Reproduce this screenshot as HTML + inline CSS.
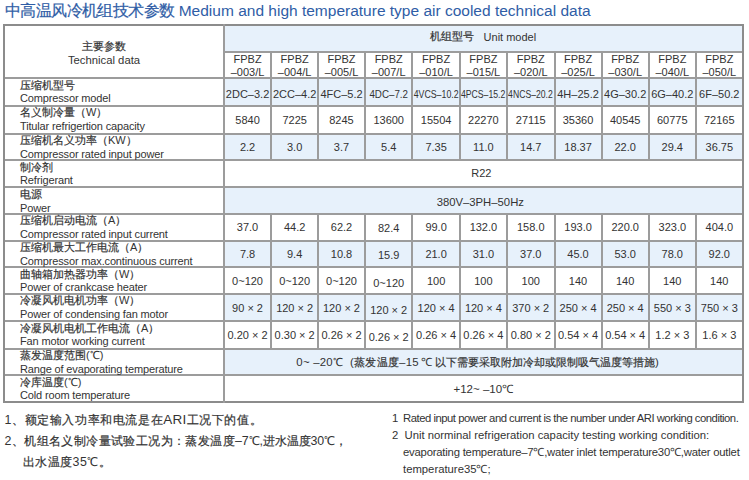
<!DOCTYPE html>
<html><head><meta charset="utf-8"><style>
html,body{margin:0;padding:0;background:#fff;}
body{width:749px;height:480px;position:relative;overflow:hidden;font-family:"Liberation Sans",sans-serif;font-size:11px;color:#333;}
body>div{position:absolute;box-sizing:border-box;}
.c{-webkit-text-stroke:0.2px currentColor;}
.e{letter-spacing:-0.15px;}
</style></head><body>
<div style="left:5px;top:1px;font-size:15.5px;line-height:20px;color:#2f5da6;white-space:nowrap"><span style="letter-spacing:-0.6px"><span class="c">中高温风冷机组技术参数</span></span> Medium and high temperature type air cooled technical data</div>
<div style="left:223.8px;top:25px;width:519.0px;height:26.700000000000003px;background:#e7f1fb"></div>
<div style="left:223.8px;top:78.3px;width:519.0px;height:27.60000000000001px;background:#e7f1fb"></div>
<div style="left:223.8px;top:133.7px;width:519.0px;height:26.600000000000023px;background:#e7f1fb"></div>
<div style="left:223.8px;top:187.5px;width:519.0px;height:26.19999999999999px;background:#e7f1fb"></div>
<div style="left:223.8px;top:240.5px;width:519.0px;height:26.5px;background:#e7f1fb"></div>
<div style="left:223.8px;top:293.6px;width:519.0px;height:27.599999999999966px;background:#e7f1fb"></div>
<div style="left:223.8px;top:348.7px;width:519.0px;height:26.600000000000023px;background:#e7f1fb"></div>
<div style="left:3px;top:24px;width:740.8px;height:2px;background:#8c8c8c"></div>
<div style="left:222.8px;top:51px;width:521.0px;height:2px;background:#9c9c9c"></div>
<div style="left:3px;top:77px;width:740.8px;height:2px;background:#9c9c9c"></div>
<div style="left:3px;top:105px;width:740.8px;height:2px;background:#9c9c9c"></div>
<div style="left:3px;top:133px;width:740.8px;height:2px;background:#9c9c9c"></div>
<div style="left:3px;top:159px;width:740.8px;height:2px;background:#9c9c9c"></div>
<div style="left:3px;top:186px;width:740.8px;height:2px;background:#9c9c9c"></div>
<div style="left:3px;top:213px;width:740.8px;height:2px;background:#9c9c9c"></div>
<div style="left:3px;top:240px;width:740.8px;height:2px;background:#9c9c9c"></div>
<div style="left:3px;top:266px;width:740.8px;height:2px;background:#9c9c9c"></div>
<div style="left:3px;top:293px;width:740.8px;height:2px;background:#9c9c9c"></div>
<div style="left:3px;top:320px;width:740.8px;height:2px;background:#9c9c9c"></div>
<div style="left:3px;top:348px;width:740.8px;height:2px;background:#9c9c9c"></div>
<div style="left:3px;top:374px;width:740.8px;height:2px;background:#9c9c9c"></div>
<div style="left:3px;top:401px;width:740.8px;height:2px;background:#8c8c8c"></div>
<div style="left:3px;top:24px;width:2px;height:379.2px;background:#8c8c8c"></div>
<div style="left:742px;top:24px;width:2px;height:379.2px;background:#8c8c8c"></div>
<div style="left:223px;top:24px;width:2px;height:379.2px;background:#9c9c9c"></div>
<div style="left:270px;top:52px;width:2px;height:109px;background:#9c9c9c"></div>
<div style="left:317px;top:52px;width:2px;height:109px;background:#9c9c9c"></div>
<div style="left:364px;top:52px;width:2px;height:109px;background:#9c9c9c"></div>
<div style="left:411px;top:52px;width:2px;height:109px;background:#9c9c9c"></div>
<div style="left:459px;top:52px;width:2px;height:109px;background:#9c9c9c"></div>
<div style="left:506px;top:52px;width:2px;height:109px;background:#9c9c9c"></div>
<div style="left:554px;top:52px;width:2px;height:109px;background:#9c9c9c"></div>
<div style="left:601px;top:52px;width:2px;height:109px;background:#9c9c9c"></div>
<div style="left:648px;top:52px;width:2px;height:109px;background:#9c9c9c"></div>
<div style="left:695px;top:52px;width:2px;height:109px;background:#9c9c9c"></div>
<div style="left:270px;top:214px;width:2px;height:135px;background:#9c9c9c"></div>
<div style="left:317px;top:214px;width:2px;height:135px;background:#9c9c9c"></div>
<div style="left:364px;top:214px;width:2px;height:135px;background:#9c9c9c"></div>
<div style="left:411px;top:214px;width:2px;height:135px;background:#9c9c9c"></div>
<div style="left:459px;top:214px;width:2px;height:135px;background:#9c9c9c"></div>
<div style="left:506px;top:214px;width:2px;height:135px;background:#9c9c9c"></div>
<div style="left:554px;top:214px;width:2px;height:135px;background:#9c9c9c"></div>
<div style="left:601px;top:214px;width:2px;height:135px;background:#9c9c9c"></div>
<div style="left:648px;top:214px;width:2px;height:135px;background:#9c9c9c"></div>
<div style="left:695px;top:214px;width:2px;height:135px;background:#9c9c9c"></div>
<div style="left:223.8px;top:23.5px;width:519.0px;height:26.700000000000003px;display:flex;align-items:center;justify-content:center;white-space:nowrap;"><span class="c">机组型号</span>&nbsp;&nbsp; Unit model</div>
<div style="left:223.8px;top:52.300000000000004px;width:47.5px;height:26.599999999999987px;display:flex;align-items:center;justify-content:center;white-space:nowrap;"><span style="line-height:12.7px;text-align:center">FPBZ<br>–003/L</span></div>
<div style="left:271.3px;top:52.300000000000004px;width:46.69999999999999px;height:26.599999999999987px;display:flex;align-items:center;justify-content:center;white-space:nowrap;"><span style="line-height:12.7px;text-align:center">FPBZ<br>–004/L</span></div>
<div style="left:318.0px;top:52.300000000000004px;width:47.0px;height:26.599999999999987px;display:flex;align-items:center;justify-content:center;white-space:nowrap;"><span style="line-height:12.7px;text-align:center">FPBZ<br>–005/L</span></div>
<div style="left:365.0px;top:52.300000000000004px;width:47.39999999999998px;height:26.599999999999987px;display:flex;align-items:center;justify-content:center;white-space:nowrap;"><span style="line-height:12.7px;text-align:center">FPBZ<br>–007/L</span></div>
<div style="left:412.4px;top:52.300000000000004px;width:47.400000000000034px;height:26.599999999999987px;display:flex;align-items:center;justify-content:center;white-space:nowrap;"><span style="line-height:12.7px;text-align:center">FPBZ<br>–010/L</span></div>
<div style="left:459.8px;top:52.300000000000004px;width:47.19999999999999px;height:26.599999999999987px;display:flex;align-items:center;justify-content:center;white-space:nowrap;"><span style="line-height:12.7px;text-align:center">FPBZ<br>–015/L</span></div>
<div style="left:507.0px;top:52.300000000000004px;width:47.5px;height:26.599999999999987px;display:flex;align-items:center;justify-content:center;white-space:nowrap;"><span style="line-height:12.7px;text-align:center">FPBZ<br>–020/L</span></div>
<div style="left:554.5px;top:52.300000000000004px;width:47.10000000000002px;height:26.599999999999987px;display:flex;align-items:center;justify-content:center;white-space:nowrap;"><span style="line-height:12.7px;text-align:center">FPBZ<br>–025/L</span></div>
<div style="left:601.6px;top:52.300000000000004px;width:47.19999999999993px;height:26.599999999999987px;display:flex;align-items:center;justify-content:center;white-space:nowrap;"><span style="line-height:12.7px;text-align:center">FPBZ<br>–030/L</span></div>
<div style="left:648.8px;top:52.300000000000004px;width:47.0px;height:26.599999999999987px;display:flex;align-items:center;justify-content:center;white-space:nowrap;"><span style="line-height:12.7px;text-align:center">FPBZ<br>–040/L</span></div>
<div style="left:695.8px;top:52.300000000000004px;width:47.0px;height:26.599999999999987px;display:flex;align-items:center;justify-content:center;white-space:nowrap;"><span style="line-height:12.7px;text-align:center">FPBZ<br>–050/L</span></div>
<div style="left:223.8px;top:79.8px;width:47.5px;height:27.60000000000001px;display:flex;align-items:center;justify-content:center;white-space:nowrap;">2DC–3.2</div>
<div style="left:271.3px;top:79.8px;width:46.69999999999999px;height:27.60000000000001px;display:flex;align-items:center;justify-content:center;white-space:nowrap;">2CC–4.2</div>
<div style="left:318.0px;top:79.8px;width:47.0px;height:27.60000000000001px;display:flex;align-items:center;justify-content:center;white-space:nowrap;">4FC–5.2</div>
<div style="left:365.0px;top:79.8px;width:47.39999999999998px;height:27.60000000000001px;display:flex;align-items:center;justify-content:center;white-space:nowrap;"><span style="display:inline-block;transform:scaleX(0.89)">4DC–7.2</span></div>
<div style="left:412.4px;top:79.8px;width:47.400000000000034px;height:27.60000000000001px;display:flex;align-items:center;justify-content:center;white-space:nowrap;"><span style="display:inline-block;transform:scaleX(0.8)">4VCS–10.2</span></div>
<div style="left:459.8px;top:79.8px;width:47.19999999999999px;height:27.60000000000001px;display:flex;align-items:center;justify-content:center;white-space:nowrap;"><span style="display:inline-block;transform:scaleX(0.79)">4PCS–15.2</span></div>
<div style="left:507.0px;top:79.8px;width:47.5px;height:27.60000000000001px;display:flex;align-items:center;justify-content:center;white-space:nowrap;"><span style="display:inline-block;transform:scaleX(0.785)">4NCS–20.2</span></div>
<div style="left:554.5px;top:79.8px;width:47.10000000000002px;height:27.60000000000001px;display:flex;align-items:center;justify-content:center;white-space:nowrap;">4H–25.2</div>
<div style="left:601.6px;top:79.8px;width:47.19999999999993px;height:27.60000000000001px;display:flex;align-items:center;justify-content:center;white-space:nowrap;">4G–30.2</div>
<div style="left:648.8px;top:79.8px;width:47.0px;height:27.60000000000001px;display:flex;align-items:center;justify-content:center;white-space:nowrap;">6G–40.2</div>
<div style="left:695.8px;top:79.8px;width:47.0px;height:27.60000000000001px;display:flex;align-items:center;justify-content:center;white-space:nowrap;">6F–50.2</div>
<div style="left:223.8px;top:105.9px;width:47.5px;height:27.799999999999983px;display:flex;align-items:center;justify-content:center;white-space:nowrap;">5840</div>
<div style="left:271.3px;top:105.9px;width:46.69999999999999px;height:27.799999999999983px;display:flex;align-items:center;justify-content:center;white-space:nowrap;">7225</div>
<div style="left:318.0px;top:105.9px;width:47.0px;height:27.799999999999983px;display:flex;align-items:center;justify-content:center;white-space:nowrap;">8245</div>
<div style="left:365.0px;top:105.9px;width:47.39999999999998px;height:27.799999999999983px;display:flex;align-items:center;justify-content:center;white-space:nowrap;">13600</div>
<div style="left:412.4px;top:105.9px;width:47.400000000000034px;height:27.799999999999983px;display:flex;align-items:center;justify-content:center;white-space:nowrap;">15504</div>
<div style="left:459.8px;top:105.9px;width:47.19999999999999px;height:27.799999999999983px;display:flex;align-items:center;justify-content:center;white-space:nowrap;">22270</div>
<div style="left:507.0px;top:105.9px;width:47.5px;height:27.799999999999983px;display:flex;align-items:center;justify-content:center;white-space:nowrap;">27115</div>
<div style="left:554.5px;top:105.9px;width:47.10000000000002px;height:27.799999999999983px;display:flex;align-items:center;justify-content:center;white-space:nowrap;">35360</div>
<div style="left:601.6px;top:105.9px;width:47.19999999999993px;height:27.799999999999983px;display:flex;align-items:center;justify-content:center;white-space:nowrap;">40545</div>
<div style="left:648.8px;top:105.9px;width:47.0px;height:27.799999999999983px;display:flex;align-items:center;justify-content:center;white-space:nowrap;">60775</div>
<div style="left:695.8px;top:105.9px;width:47.0px;height:27.799999999999983px;display:flex;align-items:center;justify-content:center;white-space:nowrap;">72165</div>
<div style="left:223.8px;top:133.7px;width:47.5px;height:26.600000000000023px;display:flex;align-items:center;justify-content:center;white-space:nowrap;">2.2</div>
<div style="left:271.3px;top:133.7px;width:46.69999999999999px;height:26.600000000000023px;display:flex;align-items:center;justify-content:center;white-space:nowrap;">3.0</div>
<div style="left:318.0px;top:133.7px;width:47.0px;height:26.600000000000023px;display:flex;align-items:center;justify-content:center;white-space:nowrap;">3.7</div>
<div style="left:365.0px;top:133.7px;width:47.39999999999998px;height:26.600000000000023px;display:flex;align-items:center;justify-content:center;white-space:nowrap;">5.4</div>
<div style="left:412.4px;top:133.7px;width:47.400000000000034px;height:26.600000000000023px;display:flex;align-items:center;justify-content:center;white-space:nowrap;">7.35</div>
<div style="left:459.8px;top:133.7px;width:47.19999999999999px;height:26.600000000000023px;display:flex;align-items:center;justify-content:center;white-space:nowrap;">11.0</div>
<div style="left:507.0px;top:133.7px;width:47.5px;height:26.600000000000023px;display:flex;align-items:center;justify-content:center;white-space:nowrap;">14.7</div>
<div style="left:554.5px;top:133.7px;width:47.10000000000002px;height:26.600000000000023px;display:flex;align-items:center;justify-content:center;white-space:nowrap;">18.37</div>
<div style="left:601.6px;top:133.7px;width:47.19999999999993px;height:26.600000000000023px;display:flex;align-items:center;justify-content:center;white-space:nowrap;">22.0</div>
<div style="left:648.8px;top:133.7px;width:47.0px;height:26.600000000000023px;display:flex;align-items:center;justify-content:center;white-space:nowrap;">29.4</div>
<div style="left:695.8px;top:133.7px;width:47.0px;height:26.600000000000023px;display:flex;align-items:center;justify-content:center;white-space:nowrap;">36.75</div>
<div style="left:223.8px;top:213.7px;width:47.5px;height:26.80000000000001px;display:flex;align-items:center;justify-content:center;white-space:nowrap;">37.0</div>
<div style="left:271.3px;top:213.7px;width:46.69999999999999px;height:26.80000000000001px;display:flex;align-items:center;justify-content:center;white-space:nowrap;">44.2</div>
<div style="left:318.0px;top:213.7px;width:47.0px;height:26.80000000000001px;display:flex;align-items:center;justify-content:center;white-space:nowrap;">62.2</div>
<div style="left:365.0px;top:215.1px;width:47.39999999999998px;height:26.80000000000001px;display:flex;align-items:center;justify-content:center;white-space:nowrap;">82.4</div>
<div style="left:412.4px;top:213.7px;width:47.400000000000034px;height:26.80000000000001px;display:flex;align-items:center;justify-content:center;white-space:nowrap;">99.0</div>
<div style="left:459.8px;top:213.7px;width:47.19999999999999px;height:26.80000000000001px;display:flex;align-items:center;justify-content:center;white-space:nowrap;">132.0</div>
<div style="left:507.0px;top:213.7px;width:47.5px;height:26.80000000000001px;display:flex;align-items:center;justify-content:center;white-space:nowrap;">158.0</div>
<div style="left:554.5px;top:213.7px;width:47.10000000000002px;height:26.80000000000001px;display:flex;align-items:center;justify-content:center;white-space:nowrap;">193.0</div>
<div style="left:601.6px;top:213.7px;width:47.19999999999993px;height:26.80000000000001px;display:flex;align-items:center;justify-content:center;white-space:nowrap;">220.0</div>
<div style="left:648.8px;top:213.7px;width:47.0px;height:26.80000000000001px;display:flex;align-items:center;justify-content:center;white-space:nowrap;">323.0</div>
<div style="left:695.8px;top:213.7px;width:47.0px;height:26.80000000000001px;display:flex;align-items:center;justify-content:center;white-space:nowrap;">404.0</div>
<div style="left:223.8px;top:240.5px;width:47.5px;height:26.5px;display:flex;align-items:center;justify-content:center;white-space:nowrap;">7.8</div>
<div style="left:271.3px;top:240.5px;width:46.69999999999999px;height:26.5px;display:flex;align-items:center;justify-content:center;white-space:nowrap;">9.4</div>
<div style="left:318.0px;top:240.5px;width:47.0px;height:26.5px;display:flex;align-items:center;justify-content:center;white-space:nowrap;">10.8</div>
<div style="left:365.0px;top:241.9px;width:47.39999999999998px;height:26.49999999999997px;display:flex;align-items:center;justify-content:center;white-space:nowrap;">15.9</div>
<div style="left:412.4px;top:240.5px;width:47.400000000000034px;height:26.5px;display:flex;align-items:center;justify-content:center;white-space:nowrap;">21.0</div>
<div style="left:459.8px;top:240.5px;width:47.19999999999999px;height:26.5px;display:flex;align-items:center;justify-content:center;white-space:nowrap;">31.0</div>
<div style="left:507.0px;top:240.5px;width:47.5px;height:26.5px;display:flex;align-items:center;justify-content:center;white-space:nowrap;">37.0</div>
<div style="left:554.5px;top:240.5px;width:47.10000000000002px;height:26.5px;display:flex;align-items:center;justify-content:center;white-space:nowrap;">45.0</div>
<div style="left:601.6px;top:240.5px;width:47.19999999999993px;height:26.5px;display:flex;align-items:center;justify-content:center;white-space:nowrap;">53.0</div>
<div style="left:648.8px;top:240.5px;width:47.0px;height:26.5px;display:flex;align-items:center;justify-content:center;white-space:nowrap;">78.0</div>
<div style="left:695.8px;top:240.5px;width:47.0px;height:26.5px;display:flex;align-items:center;justify-content:center;white-space:nowrap;">92.0</div>
<div style="left:223.8px;top:268.2px;width:47.5px;height:26.600000000000023px;display:flex;align-items:center;justify-content:center;white-space:nowrap;">0~120</div>
<div style="left:271.3px;top:268.2px;width:46.69999999999999px;height:26.600000000000023px;display:flex;align-items:center;justify-content:center;white-space:nowrap;">0~120</div>
<div style="left:318.0px;top:268.2px;width:47.0px;height:26.600000000000023px;display:flex;align-items:center;justify-content:center;white-space:nowrap;">0~120</div>
<div style="left:365.0px;top:269.6px;width:47.39999999999998px;height:26.600000000000023px;display:flex;align-items:center;justify-content:center;white-space:nowrap;">0~120</div>
<div style="left:412.4px;top:268.2px;width:47.400000000000034px;height:26.600000000000023px;display:flex;align-items:center;justify-content:center;white-space:nowrap;">100</div>
<div style="left:459.8px;top:268.2px;width:47.19999999999999px;height:26.600000000000023px;display:flex;align-items:center;justify-content:center;white-space:nowrap;">100</div>
<div style="left:507.0px;top:268.2px;width:47.5px;height:26.600000000000023px;display:flex;align-items:center;justify-content:center;white-space:nowrap;">100</div>
<div style="left:554.5px;top:268.2px;width:47.10000000000002px;height:26.600000000000023px;display:flex;align-items:center;justify-content:center;white-space:nowrap;">140</div>
<div style="left:601.6px;top:268.2px;width:47.19999999999993px;height:26.600000000000023px;display:flex;align-items:center;justify-content:center;white-space:nowrap;">140</div>
<div style="left:648.8px;top:268.2px;width:47.0px;height:26.600000000000023px;display:flex;align-items:center;justify-content:center;white-space:nowrap;">140</div>
<div style="left:695.8px;top:268.2px;width:47.0px;height:26.600000000000023px;display:flex;align-items:center;justify-content:center;white-space:nowrap;">140</div>
<div style="left:223.8px;top:294.40000000000003px;width:47.5px;height:27.599999999999966px;display:flex;align-items:center;justify-content:center;white-space:nowrap;">90 × 2</div>
<div style="left:271.3px;top:294.40000000000003px;width:46.69999999999999px;height:27.599999999999966px;display:flex;align-items:center;justify-content:center;white-space:nowrap;">120 × 2</div>
<div style="left:318.0px;top:294.40000000000003px;width:47.0px;height:27.599999999999966px;display:flex;align-items:center;justify-content:center;white-space:nowrap;">120 × 2</div>
<div style="left:365.0px;top:295.8px;width:47.39999999999998px;height:27.599999999999966px;display:flex;align-items:center;justify-content:center;white-space:nowrap;">120 × 2</div>
<div style="left:412.4px;top:294.40000000000003px;width:47.400000000000034px;height:27.599999999999966px;display:flex;align-items:center;justify-content:center;white-space:nowrap;">120 × 4</div>
<div style="left:459.8px;top:294.40000000000003px;width:47.19999999999999px;height:27.599999999999966px;display:flex;align-items:center;justify-content:center;white-space:nowrap;">120 × 4</div>
<div style="left:507.0px;top:294.40000000000003px;width:47.5px;height:27.599999999999966px;display:flex;align-items:center;justify-content:center;white-space:nowrap;">370 × 2</div>
<div style="left:554.5px;top:294.40000000000003px;width:47.10000000000002px;height:27.599999999999966px;display:flex;align-items:center;justify-content:center;white-space:nowrap;">250 × 4</div>
<div style="left:601.6px;top:294.40000000000003px;width:47.19999999999993px;height:27.599999999999966px;display:flex;align-items:center;justify-content:center;white-space:nowrap;">250 × 4</div>
<div style="left:648.8px;top:294.40000000000003px;width:47.0px;height:27.599999999999966px;display:flex;align-items:center;justify-content:center;white-space:nowrap;">550 × 3</div>
<div style="left:695.8px;top:294.40000000000003px;width:47.0px;height:27.599999999999966px;display:flex;align-items:center;justify-content:center;white-space:nowrap;">750 × 3</div>
<div style="left:223.8px;top:321.7px;width:47.5px;height:27.5px;display:flex;align-items:center;justify-content:center;white-space:nowrap;">0.20 × 2</div>
<div style="left:271.3px;top:321.7px;width:46.69999999999999px;height:27.5px;display:flex;align-items:center;justify-content:center;white-space:nowrap;">0.30 × 2</div>
<div style="left:318.0px;top:321.7px;width:47.0px;height:27.5px;display:flex;align-items:center;justify-content:center;white-space:nowrap;">0.26 × 2</div>
<div style="left:365.0px;top:323.09999999999997px;width:47.39999999999998px;height:27.5px;display:flex;align-items:center;justify-content:center;white-space:nowrap;">0.26 × 2</div>
<div style="left:412.4px;top:321.7px;width:47.400000000000034px;height:27.5px;display:flex;align-items:center;justify-content:center;white-space:nowrap;">0.26 × 4</div>
<div style="left:459.8px;top:321.7px;width:47.19999999999999px;height:27.5px;display:flex;align-items:center;justify-content:center;white-space:nowrap;">0.26 × 4</div>
<div style="left:507.0px;top:321.7px;width:47.5px;height:27.5px;display:flex;align-items:center;justify-content:center;white-space:nowrap;">0.80 × 2</div>
<div style="left:554.5px;top:321.7px;width:47.10000000000002px;height:27.5px;display:flex;align-items:center;justify-content:center;white-space:nowrap;">0.54 × 4</div>
<div style="left:601.6px;top:321.7px;width:47.19999999999993px;height:27.5px;display:flex;align-items:center;justify-content:center;white-space:nowrap;">0.54 × 4</div>
<div style="left:648.8px;top:321.7px;width:47.0px;height:27.5px;display:flex;align-items:center;justify-content:center;white-space:nowrap;">1.2 × 3</div>
<div style="left:695.8px;top:321.7px;width:47.0px;height:27.5px;display:flex;align-items:center;justify-content:center;white-space:nowrap;">1.6 × 3</div>
<div style="left:221.8px;top:159.0px;width:519.0px;height:27.19999999999999px;display:flex;align-items:center;justify-content:center;white-space:nowrap;">R22</div>
<div style="left:220.8px;top:188.8px;width:519.0px;height:26.19999999999999px;display:flex;align-items:center;justify-content:center;white-space:nowrap;font-size:11.3px">380V–3PH–50Hz</div>
<div style="left:223.8px;top:348.7px;width:519.0px;height:26.600000000000023px;display:flex;align-items:center;justify-content:center;white-space:nowrap;font-size:11.4px;letter-spacing:0.25px"><span style="position:absolute;left:72.5px">0~ –20℃&nbsp;&nbsp;(<span class="c">蒸发温度</span>–15<span style="padding:0 2.5px">℃</span><span style="letter-spacing:0"><span class="c">以下需要采取附加冷却或限制吸气温度等措施</span>)</span></span></div>
<div style="left:223.8px;top:375.3px;width:519.0px;height:26.899999999999977px;display:flex;align-items:center;justify-content:center;white-space:nowrap;font-size:11.5px">+12~ –10℃</div>
<div style="left:20px;top:78.8px;line-height:13.5px;white-space:nowrap"><span class="c">压缩机型号</span><br><span class="e">Compressor model</span></div>
<div style="left:20px;top:106.4px;line-height:13.5px;white-space:nowrap"><span class="c">名义制冷量（</span>W<span class="c">）</span><br><span class="e">Titular refrigertion capacity</span></div>
<div style="left:20px;top:134.2px;line-height:13.5px;white-space:nowrap"><span class="c">压缩机名义功率（</span>KW<span class="c">）</span><br><span class="e">Compressor rated input power</span></div>
<div style="left:20px;top:160.8px;line-height:13.5px;white-space:nowrap"><span class="c">制冷剂</span><br><span class="e">Refrigerant</span></div>
<div style="left:20px;top:188.0px;line-height:13.5px;white-space:nowrap"><span class="c">电源</span><br><span class="e">Power</span></div>
<div style="left:20px;top:214.2px;line-height:13.5px;white-space:nowrap"><span class="c">压缩机启动电流（</span>A<span class="c">）</span><br><span class="e">Compressor rated input current</span></div>
<div style="left:20px;top:241.0px;line-height:13.5px;white-space:nowrap"><span class="c">压缩机最大工作电流（</span>A<span class="c">）</span><br><span class="e">Compressor max.continuous current</span></div>
<div style="left:20px;top:267.5px;line-height:13.5px;white-space:nowrap"><span class="c">曲轴箱加热器功率（</span>W<span class="c">）</span><br><span class="e">Power of crankcase heater</span></div>
<div style="left:20px;top:294.1px;line-height:13.5px;white-space:nowrap"><span class="c">冷凝风机电机功率（</span>W<span class="c">）</span><br><span class="e">Power of condensing fan motor</span></div>
<div style="left:20px;top:321.7px;line-height:13.5px;white-space:nowrap"><span class="c">冷凝风机电机工作电流（</span>A<span class="c">）</span><br><span class="e">Fan motor working current</span></div>
<div style="left:20px;top:349.2px;line-height:13.5px;white-space:nowrap"><span class="c">蒸发温度范围</span>(℃)<br><span class="e">Range of evaporating temperature</span></div>
<div style="left:20px;top:375.8px;line-height:13.5px;white-space:nowrap"><span class="c">冷库温度</span>(℃)<br><span class="e">Cold room temperature</span></div>
<div style="left:4px;top:38.5px;width:200px;line-height:14px;text-align:center"><span class="c">主要参数</span><br><span style="font-size:11.3px">Technical data</span></div>
<div style="left:4.5px;top:409.5px;font-size:12.4px;line-height:21.2px;letter-spacing:0.4px;white-space:nowrap"><span style="letter-spacing:0.6px">1<span class="c">、额定输入功率和电流是在</span><span style="letter-spacing:0.3px;font-size:13.5px;line-height:0">ARI</span><span class="c">工况下的值。</span></span><br>2<span class="c">、机组名义制冷量试验工况为：蒸发温度</span><span style="letter-spacing:-0.1px">–7℃,<span class="c">进水温度</span>30℃<span class="c">，</span></span><br><span style="padding-left:18.5px"><span class="c">出水温度</span>35℃<span class="c">。</span></span></div>
<div style="left:392px;top:409.5px;font-size:11.3px;line-height:17px;white-space:nowrap"><span style="letter-spacing:-0.49px">1&nbsp;&nbsp;Rated input power and current is the number under ARI working condition.</span><br>2&nbsp;&nbsp;Unit norminal refrigeration capacity testing working condition:<br><span style="padding-left:11px;letter-spacing:-0.21px">evaporating temperature–7℃,water inlet temperature30℃,water outlet</span><br><span style="padding-left:11px">temperature35℃;</span></div>
</body></html>
